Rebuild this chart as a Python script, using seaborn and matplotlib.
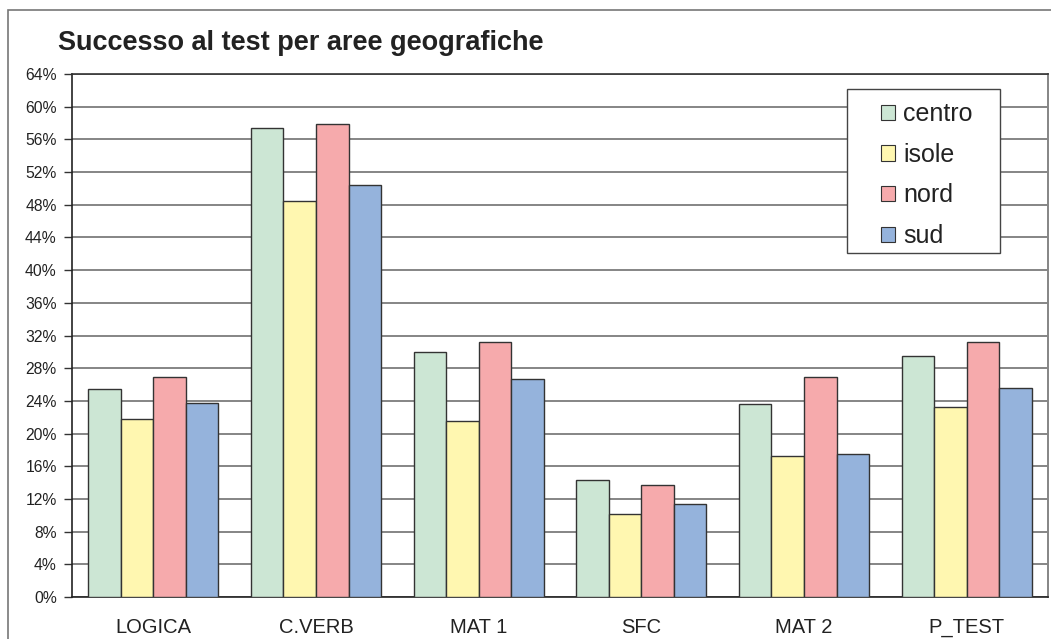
import matplotlib
matplotlib.use("Agg")
import matplotlib.pyplot as plt
import matplotlib.patches as mpatches
import numpy as np
import pandas as pd
import seaborn as sns

# data (percent)
categories = ["LOGICA", "C.VERB", "MAT 1", "SFC", "MAT 2", "P_TEST"]
centro = [25.5, 57.4, 30.0, 14.3, 23.6, 29.5]
isole = [21.8, 48.4, 21.5, 10.1, 17.2, 23.3]
nord = [26.9, 57.9, 31.2, 13.7, 26.9, 31.2]
sud = [23.8, 50.4, 26.7, 11.4, 17.5, 25.6]
areas = ["centro", "isole", "nord", "sud"]
colors = ["#CCE6D4", "#FFF7B0", "#F6AAAC", "#95B3DC"]

df = pd.DataFrame({"categoria": categories, "centro": centro, "isole": isole,
                   "nord": nord, "sud": sud})
long = df.melt(id_vars="categoria", var_name="area", value_name="valore")

sns.set_theme(style="white")
plt.rcParams["font.family"] = ["Liberation Sans", "DejaVu Sans"]

W, H = 1051, 639
fig = plt.figure(figsize=(W / 100, H / 100), dpi=100)
fig.patch.set_facecolor("white")
# outer chart frame
fig.patches.append(mpatches.Rectangle((8 / W, -0.1), 1.2, 1 - 10 / H + 0.1,
                                      transform=fig.transFigure, fill=False,
                                      edgecolor="#777777", lw=1.2, zorder=0))
ax = fig.add_axes([72 / W, 1 - 597 / H, (1048 - 72) / W, (597 - 74) / H])

sns.barplot(data=long, x="categoria", y="valore", hue="area", order=categories,
            hue_order=areas, palette=colors, saturation=1, edgecolor="#333333",
            linewidth=1.0, width=0.8, ax=ax, legend=False, zorder=3)

ax.set_ylim(0, 64)
ax.set_xlim(-0.5, len(categories) - 0.5)
ax.set_yticks(np.arange(0, 65, 4))
ax.set_yticklabels([f"{v}%" for v in range(0, 65, 4)], fontsize=11.3, color="#222222")
ax.yaxis.grid(True, color="#858585", lw=1.4, zorder=0)
ax.set_axisbelow(True)
ax.set_xlabel("")
ax.set_ylabel("")
ax.tick_params(axis="x", which="major", length=0, labelsize=14.5, labelcolor="#222222", pad=15)
ax.set_xticks(np.arange(-0.5, len(categories), 1), minor=True)
ax.tick_params(axis="x", which="minor", length=6, width=1, color="#333333", direction="out")
ax.tick_params(axis="y", length=6, width=1, color="#333333", direction="out", left=True, pad=5)

for s in ["left", "bottom"]:
    ax.spines[s].set_color("#222222")
    ax.spines[s].set_linewidth(1.2)
ax.spines["right"].set_color("#858585")
ax.spines["right"].set_linewidth(1.4)
ax.spines["top"].set_color("#333333")
ax.spines["top"].set_linewidth(1.2)

# legend box drawn separately, legend entries without frame
fig.patches.append(mpatches.Rectangle((847 / W, 1 - 253 / H), (1000 - 847) / W, (253 - 89) / H,
                                      transform=fig.transFigure, facecolor="white",
                                      edgecolor="#444444", lw=1.0, zorder=4))
handles = [mpatches.Patch(facecolor=c, edgecolor="#333333", lw=0.8, label=a)
           for a, c in zip(areas, colors)]
leg = fig.legend(handles=handles, loc="upper left",
                 bbox_to_anchor=(881 / W, 1 - 102 / H), bbox_transform=fig.transFigure,
                 fontsize=18, frameon=False, handlelength=0.56, handleheight=0.56,
                 handletextpad=0.32, labelspacing=0.67, borderpad=0, borderaxespad=0)
leg.set_zorder(6)
for t in leg.get_texts():
    t.set_color("#222222")

fig.text(58 / W, 1 - 43 / H, "Successo al test per aree geografiche",
         fontsize=19.5, fontweight="bold", color="#222222", va="center", ha="left")

fig.savefig("out.png", dpi=100)
